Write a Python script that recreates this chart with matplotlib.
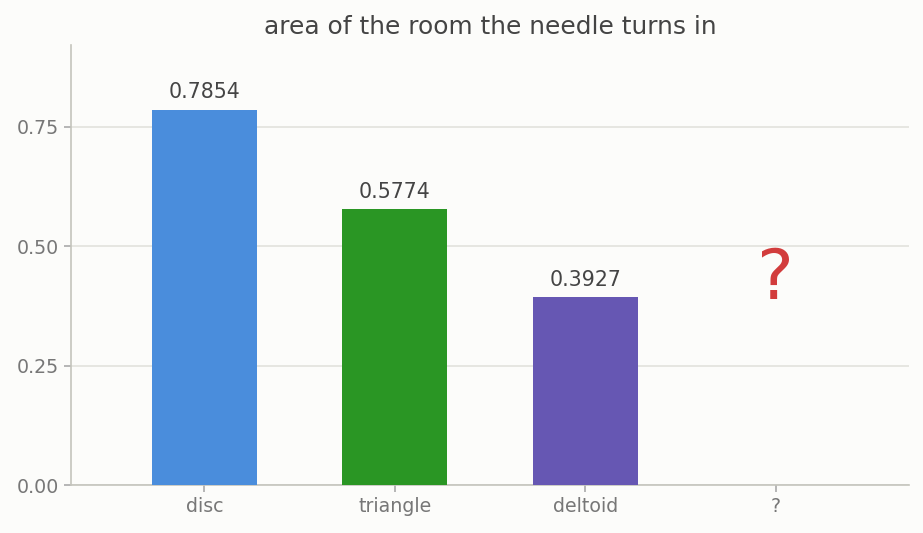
import matplotlib.pyplot as plt

plt.rcParams['font.family'] = ['DejaVu Sans']

shapes = ['disc', 'triangle', 'deltoid', '?']
areas = [0.7854, 0.5774, 0.3927]
bar_colors = ['#4a8ddc', '#2a9624', '#6657b3']
mystery_y = 0.43

fig, ax = plt.subplots(figsize=(9.23, 5.33), dpi=100)
fig.patch.set_facecolor('#fcfcfa')
ax.set_facecolor('#fcfcfa')

x = list(range(len(shapes)))
bars = ax.bar(x[:3], areas, width=0.55, color=bar_colors, zorder=3)
for b, v in zip(bars, areas):
    ax.text(b.get_x() + b.get_width() / 2, v + 0.015, f'{v:.4f}',
            ha='center', va='bottom', fontsize=14.8, color='#444444')

ax.text(x[3], mystery_y, '?', ha='center', va='center', fontsize=50, color='#d23c3c')

ax.set_xticks(x)
ax.set_xticklabels(shapes)
ax.set_yticks([0, 0.25, 0.5, 0.75])
ax.set_xlim(-0.7, 3.7)
ax.set_ylim(0, 0.92)

ax.grid(axis='y', color='#e2e2dc', linewidth=1.2, zorder=0)
ax.set_axisbelow(True)
for s in ['top', 'right']:
    ax.spines[s].set_visible(False)
for s in ['left', 'bottom']:
    ax.spines[s].set_color('#c4c4bc')
    ax.spines[s].set_linewidth(1.2)
ax.tick_params(colors='#777777', labelsize=13.7, length=5, width=1.2)
ax.tick_params(axis='both', color='#aaaaaa')

ax.set_title('area of the room the needle turns in', fontsize=17.9, color='#444444', pad=8)

plt.subplots_adjust(left=0.077, right=0.985, bottom=0.09, top=0.915)
plt.savefig('out.png', facecolor=fig.get_facecolor())
